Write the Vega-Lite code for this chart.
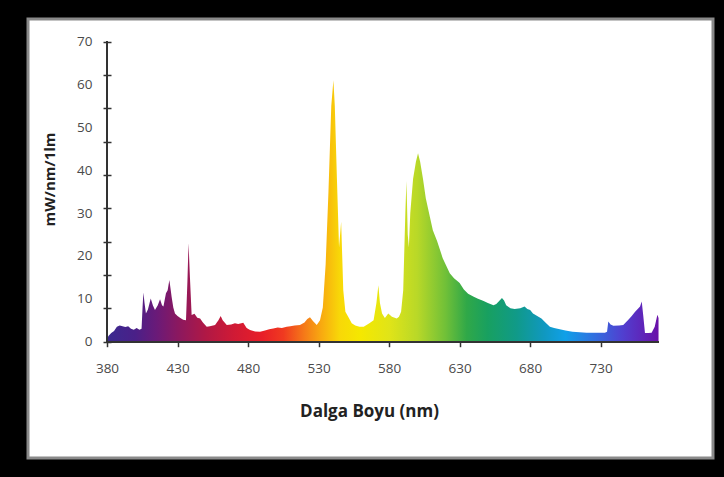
{
  "$schema": "https://vega.github.io/schema/vega-lite/v6.json",
  "autosize": {"type": "none"},
  "width": 685,
  "height": 439,
  "padding": {"left": 28, "top": 19, "right": 11, "bottom": 19},
  "background": "#000000",
  "config": {
    "view": {"fill": "#ffffff", "stroke": "#8a8a8a", "strokeWidth": 3},
    "axis": {"grid": false, "labelFont": "Open Sans", "titleFont": "Open Sans"}
  },
  "data": {
    "values": [
      {"nm": 380, "v": 0.5}, {"nm": 381, "v": 1.3}, {"nm": 383, "v": 2.0}, {"nm": 385, "v": 2.5},
      {"nm": 387, "v": 3.5}, {"nm": 389, "v": 3.8}, {"nm": 391, "v": 3.6}, {"nm": 393, "v": 3.4},
      {"nm": 395, "v": 3.6}, {"nm": 397, "v": 3.0}, {"nm": 399, "v": 2.8}, {"nm": 401, "v": 3.2},
      {"nm": 403, "v": 2.8}, {"nm": 404.5, "v": 3.0}, {"nm": 405.2, "v": 8.0}, {"nm": 405.8, "v": 11.5},
      {"nm": 406.6, "v": 9.0}, {"nm": 407.6, "v": 6.6}, {"nm": 409, "v": 7.5}, {"nm": 411, "v": 10.1},
      {"nm": 412.5, "v": 8.5}, {"nm": 414, "v": 7.4}, {"nm": 416, "v": 8.5}, {"nm": 417.6, "v": 9.9},
      {"nm": 419, "v": 8.5}, {"nm": 420, "v": 8.2}, {"nm": 421.8, "v": 11.3}, {"nm": 423, "v": 12.0},
      {"nm": 424.2, "v": 14.4}, {"nm": 425.2, "v": 12.0}, {"nm": 425.8, "v": 10.5}, {"nm": 427, "v": 8.0},
      {"nm": 428.2, "v": 6.6}, {"nm": 430, "v": 6.0}, {"nm": 432, "v": 5.5}, {"nm": 434, "v": 5.1},
      {"nm": 436, "v": 5.0}, {"nm": 437, "v": 14.0}, {"nm": 437.8, "v": 23.0}, {"nm": 438.8, "v": 15.0},
      {"nm": 440, "v": 6.2}, {"nm": 442, "v": 6.5}, {"nm": 444, "v": 5.6}, {"nm": 446, "v": 5.4},
      {"nm": 448, "v": 4.5}, {"nm": 450.7, "v": 3.5}, {"nm": 453, "v": 3.6}, {"nm": 456.6, "v": 3.9},
      {"nm": 459, "v": 5.0}, {"nm": 460.6, "v": 6.0}, {"nm": 462, "v": 5.0}, {"nm": 464.9, "v": 3.9},
      {"nm": 468, "v": 4.0}, {"nm": 470.7, "v": 4.3}, {"nm": 473, "v": 4.1}, {"nm": 476.6, "v": 4.4},
      {"nm": 479, "v": 3.2}, {"nm": 481.4, "v": 2.7}, {"nm": 485, "v": 2.4}, {"nm": 488.5, "v": 2.3},
      {"nm": 492, "v": 2.6}, {"nm": 495, "v": 2.9}, {"nm": 497.9, "v": 3.1}, {"nm": 501, "v": 3.3},
      {"nm": 504, "v": 3.2}, {"nm": 507.4, "v": 3.5}, {"nm": 510, "v": 3.6}, {"nm": 513, "v": 3.8},
      {"nm": 516.8, "v": 3.9}, {"nm": 520, "v": 4.5}, {"nm": 522, "v": 5.3}, {"nm": 523.9, "v": 5.7},
      {"nm": 526, "v": 4.8}, {"nm": 528.7, "v": 3.9}, {"nm": 531, "v": 5.0}, {"nm": 533, "v": 8.0},
      {"nm": 535, "v": 18.0}, {"nm": 537, "v": 35.0}, {"nm": 539, "v": 55.0}, {"nm": 540.5, "v": 61.0},
      {"nm": 541.5, "v": 55.0}, {"nm": 543, "v": 38.0}, {"nm": 544.5, "v": 22.0}, {"nm": 546, "v": 28.0},
      {"nm": 547.5, "v": 12.0}, {"nm": 549, "v": 7.0}, {"nm": 551, "v": 5.8}, {"nm": 553.5, "v": 4.3},
      {"nm": 556, "v": 3.8}, {"nm": 559, "v": 3.5}, {"nm": 562, "v": 3.5}, {"nm": 566, "v": 4.3},
      {"nm": 569, "v": 5.0}, {"nm": 571, "v": 9.0}, {"nm": 572.4, "v": 13.2}, {"nm": 573.5, "v": 9.0},
      {"nm": 575, "v": 6.6}, {"nm": 577, "v": 5.5}, {"nm": 579.4, "v": 6.6}, {"nm": 582, "v": 5.8},
      {"nm": 585.4, "v": 5.4}, {"nm": 587, "v": 5.8}, {"nm": 588.5, "v": 7.0}, {"nm": 590, "v": 12.0},
      {"nm": 591.5, "v": 30.0}, {"nm": 592.3, "v": 37.5}, {"nm": 593.2, "v": 25.0}, {"nm": 594, "v": 22.0},
      {"nm": 595, "v": 30.0}, {"nm": 597, "v": 38.0}, {"nm": 599, "v": 42.0}, {"nm": 600.5, "v": 44.0},
      {"nm": 602, "v": 42.0}, {"nm": 604, "v": 38.0}, {"nm": 606, "v": 33.5}, {"nm": 609, "v": 29.0},
      {"nm": 611, "v": 26.0}, {"nm": 614, "v": 23.5}, {"nm": 618, "v": 19.5}, {"nm": 623, "v": 16.0},
      {"nm": 626, "v": 14.8}, {"nm": 629, "v": 14.0}, {"nm": 630, "v": 13.7}, {"nm": 633, "v": 12.2},
      {"nm": 636, "v": 11.2}, {"nm": 640, "v": 10.5}, {"nm": 643, "v": 10.0}, {"nm": 647, "v": 9.5},
      {"nm": 650, "v": 9.0}, {"nm": 654, "v": 8.5}, {"nm": 656, "v": 8.8}, {"nm": 658, "v": 9.5},
      {"nm": 660, "v": 10.2}, {"nm": 661.5, "v": 9.6}, {"nm": 663, "v": 8.5}, {"nm": 666, "v": 7.8},
      {"nm": 669, "v": 7.6}, {"nm": 673, "v": 7.8}, {"nm": 676, "v": 8.2}, {"nm": 678, "v": 7.6},
      {"nm": 680, "v": 7.4}, {"nm": 682, "v": 6.6}, {"nm": 685, "v": 6.0}, {"nm": 688, "v": 5.4},
      {"nm": 691, "v": 4.4}, {"nm": 694, "v": 3.5}, {"nm": 697, "v": 3.2}, {"nm": 701, "v": 2.9},
      {"nm": 705, "v": 2.6}, {"nm": 710, "v": 2.3}, {"nm": 715, "v": 2.2}, {"nm": 720, "v": 2.1},
      {"nm": 726, "v": 2.1}, {"nm": 733, "v": 2.1}, {"nm": 734.5, "v": 2.3}, {"nm": 735.4, "v": 4.7},
      {"nm": 737, "v": 4.0}, {"nm": 739, "v": 3.7}, {"nm": 743, "v": 3.8}, {"nm": 746, "v": 3.9},
      {"nm": 749.6, "v": 5.1}, {"nm": 752, "v": 6.0}, {"nm": 754.4, "v": 7.0}, {"nm": 757.9, "v": 8.2},
      {"nm": 759.1, "v": 9.4}, {"nm": 760.2, "v": 6.0}, {"nm": 761.4, "v": 2.0}, {"nm": 764, "v": 2.0},
      {"nm": 766.1, "v": 2.1}, {"nm": 768.3, "v": 3.5}, {"nm": 770.2, "v": 6.3}, {"nm": 771, "v": 5.5}
    ]
  },
  "resolve": {"axis": {"x": "independent", "y": "independent"}},
  "layer": [
    {
      "mark": {
        "type": "area",
        "interpolate": "linear",
        "color": {
          "gradient": "linear",
          "x1": 0, "y1": 0, "x2": 1, "y2": 0,
          "stops": [
            {"offset": 0, "color": "#3a2a90"},
            {"offset": 0.051, "color": "#4a2088"},
            {"offset": 0.09, "color": "#6a1a78"},
            {"offset": 0.128, "color": "#8a1860"},
            {"offset": 0.179, "color": "#b01845"},
            {"offset": 0.23, "color": "#d01a35"},
            {"offset": 0.281, "color": "#e81e28"},
            {"offset": 0.32, "color": "#f03a20"},
            {"offset": 0.358, "color": "#f57a18"},
            {"offset": 0.389, "color": "#f8aa10"},
            {"offset": 0.422, "color": "#f8d808"},
            {"offset": 0.46, "color": "#f5e800"},
            {"offset": 0.512, "color": "#e0e418"},
            {"offset": 0.563, "color": "#b8d828"},
            {"offset": 0.614, "color": "#70c038"},
            {"offset": 0.652, "color": "#30a848"},
            {"offset": 0.69, "color": "#18a060"},
            {"offset": 0.742, "color": "#109a88"},
            {"offset": 0.793, "color": "#1098c0"},
            {"offset": 0.831, "color": "#10a0e8"},
            {"offset": 0.882, "color": "#3070e0"},
            {"offset": 0.934, "color": "#5040d0"},
            {"offset": 1, "color": "#6a10a8"}
          ]
        }
      },
      "encoding": {
        "x": {
          "field": "nm", "type": "quantitative",
          "scale": {"domain": [323.99, 809.62], "nice": false, "zero": false},
          "axis": {
            "values": [380, 430, 480, 530, 580, 630, 680, 730],
            "orient": "bottom", "offset": -116.3, "domain": false,
            "tickSize": 5, "tickColor": "#333333", "tickWidth": 1.5,
            "labelFontSize": 13.5, "labelColor": "#4a4a4a", "labelPadding": 15,
            "title": "Dalga Boyu (nm)", "titleFontSize": 17, "titleFontWeight": "bold",
            "titleColor": "#222222", "titleX": 341, "titleY": 70,
            "titleAnchor": null, "titleAlign": "center", "titleBaseline": "middle"
          }
        },
        "y": {
          "field": "v", "type": "quantitative",
          "scale": {"domain": [-27.14, 75.3], "nice": false, "zero": false},
          "axis": {
            "values": [0, 10, 20, 30, 40, 50, 60, 70],
            "orient": "left", "offset": -79, "domain": false,
            "ticks": false, "tickSize": 0,
            "labelFontSize": 13.5, "labelColor": "#4a4a4a", "labelPadding": 15,
            "title": "mW/nm/1lm", "titleFontSize": 15, "titleFontWeight": "bold",
            "titleColor": "#222222", "titleAngle": -90, "titleX": -58, "titleY": 160,
            "titleAnchor": null, "titleAlign": "center", "titleBaseline": "middle"
          }
        },
        "y2": {"datum": 0}
      }
    },
    {
      "mark": {"type": "rule", "color": "#333333", "strokeWidth": 1.5},
      "encoding": {
        "x": {"datum": 380, "type": "quantitative", "axis": null},
        "y": {
          "datum": 0, "type": "quantitative",
          "axis": {
            "values": [0, 7.7778, 15.5556, 23.3333, 31.1111, 38.8889, 46.6667, 54.4444, 62.2222, 70],
            "orient": "left", "offset": -79, "domain": false, "labels": false,
            "tickSize": 4, "tickColor": "#333333", "tickWidth": 1.5, "title": null
          }
        },
        "y2": {"datum": 70}
      }
    },
    {
      "mark": {"type": "rule", "color": "#333333", "strokeWidth": 1.5},
      "encoding": {
        "x": {"datum": 380, "type": "quantitative", "axis": null},
        "x2": {"datum": 771},
        "y": {
          "datum": 0, "type": "quantitative",
          "axis": {
            "values": [0, 7.7778, 15.5556, 23.3333, 31.1111, 38.8889, 46.6667, 54.4444, 62.2222, 70],
            "orient": "right", "offset": -606, "domain": false, "labels": false,
            "tickSize": 4, "tickColor": "#333333", "tickWidth": 1.5, "title": null
          }
        }
      }
    }
  ]
}
